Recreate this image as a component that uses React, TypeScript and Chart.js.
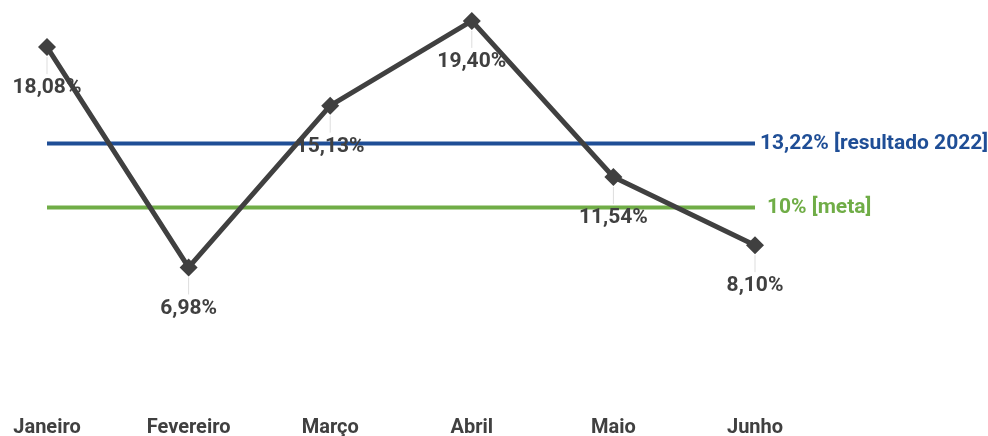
import React, { useEffect, useRef } from "react";
import { Chart, registerables } from "chart.js";

Chart.register(...registerables);

const months = ["Janeiro", "Fevereiro", "Março", "Abril", "Maio", "Junho"];
const values = [18.08, 6.98, 15.13, 19.4, 11.54, 8.1];
const valueLabels = ["18,08%", "6,98%", "15,13%", "19,40%", "11,54%", "8,10%"];
const result2022 = 13.22;
const result2022Label = "13,22% [resultado 2022]";
const target = 10;
const targetLabel = "10% [meta]";

const DARK = "#404040";
const BLUE = "#1F4E96";
const GREEN = "#70AD47";

export default function App() {
  const ref = useRef<HTMLCanvasElement | null>(null);

  useEffect(() => {
    document.body.style.margin = "0";
    const canvas = ref.current;
    if (!canvas) return;

    const labelsPlugin = {
      id: "customLabels",
      afterDatasetsDraw(chart: any) {
        const ctx = chart.ctx;
        const meta = chart.getDatasetMeta(0);
        ctx.save();
        meta.data.forEach((pt: any, i: number) => {
          const x = pt.x;
          const y = pt.y;
          ctx.strokeStyle = "#dddddd";
          ctx.lineWidth = 1;
          ctx.beginPath();
          ctx.moveTo(x, y + 10);
          ctx.lineTo(x, y + 27);
          ctx.stroke();
          ctx.fillStyle = DARK;
          ctx.font = "bold 21px Roboto";
          ctx.textAlign = "center";
          ctx.textBaseline = "middle";
          ctx.fillText(valueLabels[i], x, y + 41);
        });
        const area = chart.chartArea;
        const ys = chart.scales.y;
        ctx.font = "bold 21px Roboto";
        ctx.textAlign = "left";
        ctx.textBaseline = "middle";
        ctx.fillStyle = BLUE;
        ctx.fillText(result2022Label, area.right + 5, ys.getPixelForValue(result2022));
        ctx.fillStyle = GREEN;
        ctx.fillText(targetLabel, area.right + 12, ys.getPixelForValue(target));
        ctx.restore();
      },
    };

    const chart = new Chart(canvas, {
      type: "line",
      data: {
        labels: months,
        datasets: [
          {
            data: values,
            borderColor: DARK,
            backgroundColor: DARK,
            borderWidth: 5,
            pointStyle: "rectRot",
            pointRadius: 9,
            pointBackgroundColor: DARK,
            pointBorderColor: DARK,
            pointBorderWidth: 0,
            tension: 0,
          },
          {
            data: months.map(() => result2022),
            borderColor: BLUE,
            borderWidth: 4,
            pointRadius: 0,
          },
          {
            data: months.map(() => target),
            borderColor: GREEN,
            borderWidth: 4,
            pointRadius: 0,
          },
        ],
      },
      plugins: [labelsPlugin],
      options: {
        responsive: false,
        animation: false,
        layout: { padding: { left: 47, right: 233, top: 8, bottom: -14 } },
        plugins: { legend: { display: false }, tooltip: { enabled: false } },
        scales: {
          x: {
            offset: false,
            grid: { display: false, drawTicks: false },
            border: { display: false },
            ticks: {
              color: DARK,
              font: { family: "Roboto", size: 20, weight: "bold" },
              padding: 10,
              maxRotation: 0,
              autoSkip: false,
            },
          },
          y: {
            display: false,
            min: 0,
            max: 20,
          },
        },
      },
    } as any);

    return () => chart.destroy();
  }, []);

  return (
    <div style={{ position: "absolute", left: 0, top: 0, width: 988, height: 436 }}>
      <canvas ref={ref} width={988} height={436} style={{ display: "block", width: 988, height: 436 }} />
    </div>
  );
}
